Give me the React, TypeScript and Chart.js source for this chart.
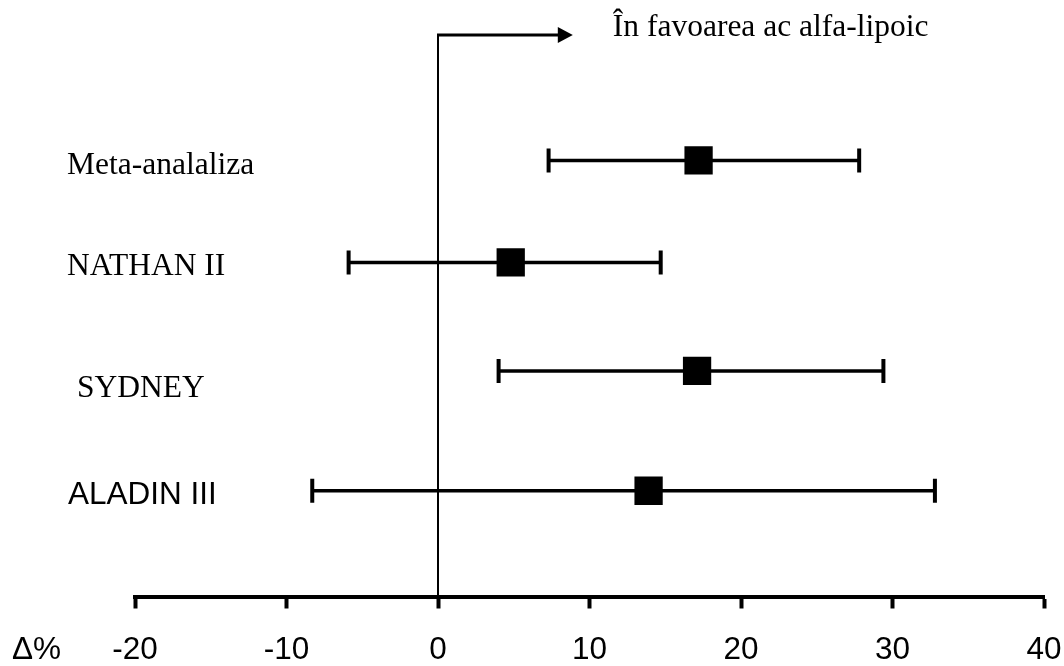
import React, { useEffect, useRef } from "react";
import { Chart, registerables } from "chart.js";

Chart.register(...registerables);

// ---- data ----
const studies = ["Meta-analaliza", "NATHAN II", "SYDNEY", "ALADIN III"];
const estimates = [17.2, 4.8, 17.1, 13.9];
const lowerCI = [7.3, -5.9, 4.0, -8.3];
const upperCI = [27.8, 14.7, 29.4, 32.8];
const rowPositions = [4.66, 3.57, 2.41, 1.13];
const xTicks = [-20, -10, 0, 10, 20, 30, 40];
const arrowEnd = 8.9;
const favourText = "În favoarea ac alfa-lipoic";
const axisUnitLabel = "Δ%";

// ---- styles ----
const SERIF = '"Liberation Serif", "Times New Roman", serif';
const SANS = '"Liberation Sans", Arial, sans-serif';
const FONT_SIZE = 31.5;
const labelStyles = [
  { family: SERIF, dx: 0, dy: 13.3 },
  { family: SERIF, dx: 0, dy: 12.7 },
  { family: SERIF, dx: 10, dy: 26 },
  { family: SANS, dx: 1, dy: 13.3 },
];
const TICK_LEN = 12;
const LABEL_CENTER_OFFSET = 41.75; // from tick end to middle of tick labels
const TARGET_AREA = { right: 1044, bottom: 596.5 };

const annotationPlugin = {
  id: "forestAnnotations",
  beforeDatasetsDraw(chart: any) {
    const { ctx, scales } = chart;
    const x = scales.x;
    const y = scales.y;
    const x0 = x.getPixelForValue(0);
    ctx.save();
    ctx.strokeStyle = "#000";
    ctx.lineWidth = 2;
    ctx.beginPath();
    ctx.moveTo(x0, y.getPixelForValue(0));
    ctx.lineTo(x0, y.getPixelForValue(y.max));
    ctx.stroke();
    ctx.restore();
  },
  afterDraw(chart: any) {
    const { ctx, scales } = chart;
    const x = scales.x;
    const y = scales.y;
    ctx.save();
    ctx.fillStyle = "#000";
    ctx.strokeStyle = "#000";

    // arrow
    const x0 = x.getPixelForValue(0);
    const yTop = y.getPixelForValue(y.max);
    const tip = x.getPixelForValue(arrowEnd);
    const headLen = 15;
    const headHalf = 8;
    ctx.lineWidth = 3;
    ctx.beginPath();
    ctx.moveTo(x0 - 1, yTop);
    ctx.lineTo(tip - headLen + 1, yTop);
    ctx.stroke();
    ctx.beginPath();
    ctx.moveTo(tip, yTop);
    ctx.lineTo(tip - headLen, yTop - headHalf);
    ctx.lineTo(tip - headLen, yTop + headHalf);
    ctx.closePath();
    ctx.fill();

    // favour text
    ctx.font = `${FONT_SIZE}px ${SERIF}`;
    ctx.textAlign = "left";
    ctx.textBaseline = "alphabetic";
    ctx.fillText(favourText, tip + 40, yTop + 1);

    // study labels
    studies.forEach((s, i) => {
      const st = labelStyles[i];
      ctx.font = `${FONT_SIZE}px ${st.family}`;
      ctx.fillText(s, 67 + st.dx, y.getPixelForValue(rowPositions[i]) + st.dy);
    });

    // unit label on the line of tick labels
    ctx.font = `${FONT_SIZE}px ${SANS}`;
    ctx.textBaseline = "middle";
    ctx.fillText(axisUnitLabel, 12, x.top + TICK_LEN + LABEL_CENTER_OFFSET);
    ctx.restore();
  },
};

export default function App() {
  const canvasRef = useRef<HTMLCanvasElement | null>(null);

  useEffect(() => {
    if (!canvasRef.current) return;

    const squareData = estimates.map((v, i) => ({ x: v, y: rowPositions[i] }));
    const barDatasets = studies.map((s, i) => ({
      label: s,
      data: [
        { x: lowerCI[i], y: rowPositions[i] },
        { x: upperCI[i], y: rowPositions[i] },
      ],
      showLine: true,
      borderColor: "#000",
      backgroundColor: "#000",
      borderWidth: 3.5,
      pointStyle: "line",
      pointRotation: 90,
      pointRadius: 12,
      pointHoverRadius: 12,
      pointBorderWidth: 4,
      pointBorderColor: "#000",
    }));

    const chart = new Chart(canvasRef.current, {
      type: "scatter",
      data: {
        datasets: [
          {
            label: "estimate",
            data: squareData,
            pointStyle: "rect",
            pointRadius: 20,
            pointHoverRadius: 20,
            backgroundColor: "#000",
            borderColor: "#000",
            pointBorderWidth: 0,
          } as any,
          ...(barDatasets as any[]),
        ],
      },
      options: {
        responsive: false,
        animation: false,
        events: [],
        layout: {
          autoPadding: false,
          padding: { left: 135, right: 20, top: 35, bottom: 0 },
        },
        plugins: {
          legend: { display: false },
          tooltip: { enabled: false },
          title: { display: false },
        },
        scales: {
          x: {
            type: "linear",
            position: "bottom",
            min: -20,
            max: 40,
            afterBuildTicks: (scale: any) => {
              scale.ticks = xTicks.map((v) => ({ value: v }));
            },
            grid: {
              display: true,
              drawOnChartArea: false,
              drawTicks: true,
              tickLength: TICK_LEN,
              tickWidth: 4,
              tickColor: "#000",
              color: "#000",
            },
            border: { display: true, width: 4, color: "#000" },
            ticks: {
              color: "#000",
              padding: 0,
              autoSkip: false,
              maxRotation: 0,
              font: {
                family: SANS,
                size: FONT_SIZE,
                lineHeight: (LABEL_CENTER_OFFSET * 2) / FONT_SIZE,
              },
            },
          },
          y: {
            type: "linear",
            display: false,
            min: 0,
            max: 6,
          },
        },
      },
      plugins: [annotationPlugin],
    });

    // fine-tune the plot area so it sits where the reference's does
    const ca = chart.chartArea;
    const pad: any = (chart.options as any).layout.padding;
    const newPad = {
      left: pad.left,
      top: pad.top,
      right: pad.right + (ca.right - TARGET_AREA.right),
      bottom: pad.bottom + (ca.bottom - TARGET_AREA.bottom),
    };
    (chart.options as any).layout.padding = newPad;
    chart.update();

    return () => chart.destroy();
  }, []);

  return (
    <div
      style={{
        position: "fixed",
        left: 0,
        top: 0,
        width: 1064,
        height: 666,
        background: "#fff",
      }}
    >
      <canvas ref={canvasRef} width={1064} height={666} />
    </div>
  );
}
